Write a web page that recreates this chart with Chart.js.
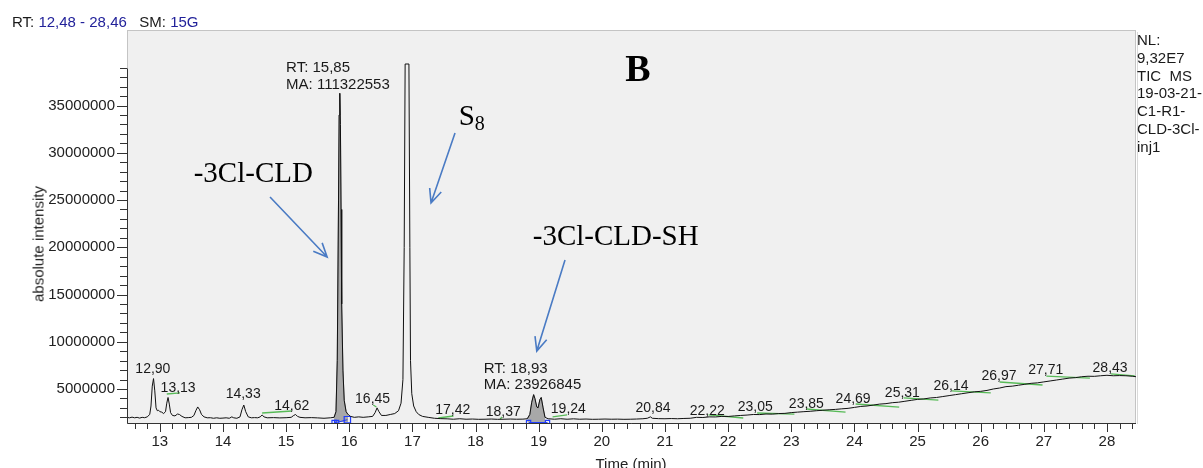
<!DOCTYPE html>
<html>
<head>
<meta charset="utf-8">
<script src="https://cdn.jsdelivr.net/npm/chart.js@4.4.1/dist/chart.umd.min.js"></script>
<style>
html,body{margin:0;padding:0;background:#fff;}
#wrap{position:relative;width:1203px;height:468px;overflow:hidden;font-family:"Liberation Sans",Arial,sans-serif;}
#c{position:absolute;left:0;top:0;}
.abs{position:absolute;white-space:nowrap;line-height:1;}
.hdr{left:12px;top:14px;font-size:15px;color:#1a1a1a;}
.hdr .v{color:#22229a;}
.nl{left:1137px;top:31px;font-size:15px;line-height:17.8px;color:#1a1a1a;white-space:pre;}
.ytitle{left:37.5px;top:244px;font-size:15px;color:#222;transform:translate(-50%,-50%) rotate(-90deg);}
.xtitle{left:631px;top:463px;font-size:15px;color:#222;transform:translate(-50%,-50%);}
.plab{font-size:14px;color:#1a1a1a;transform:translate(-50%,-50%);}
.rt{font-size:15px;color:#1a1a1a;transform:translate(0,-50%);}
.ser{font-family:"Liberation Serif","Times New Roman",serif;font-size:29px;color:#000;transform:translate(-50%,-50%);}
.bold{font-weight:bold;font-size:38px;}
.ser sub{font-size:20px;vertical-align:-5px;}
</style>
</head>
<body>
<div id="wrap">
<canvas id="c" width="1203" height="468"></canvas>
<div class="abs hdr">RT: <span class="v">12,48 - 28,46</span>&nbsp;&nbsp; SM: <span class="v">15G</span></div>
<div class="abs nl">NL:
9,32E7
TIC  MS
19-03-21-
C1-R1-
CLD-3Cl-
inj1</div>
<div class="abs ytitle">absolute intensity</div>
<div class="abs xtitle">Time (min)</div>
</div>
<script>
// ---------- data (time in min, intensity in millions) ----------
const tracePoints = [
[12.48,2.0],[12.52,1.95],[12.56,2.02],[12.60,1.95],[12.64,2.0],[12.68,1.92],[12.72,2.0],[12.76,1.96],[12.80,2.05],
[12.84,2.3],[12.86,3.2],[12.88,5.3],[12.90,6.1],[12.92,4.8],[12.94,3.0],[12.96,2.7],[12.98,2.75],[13.00,2.6],
[13.03,2.55],[13.06,2.4],[13.09,2.6],[13.11,3.5],[13.13,4.1],[13.15,3.4],[13.17,2.5],[13.20,2.2],[13.24,2.15],
[13.28,2.35],[13.31,2.3],[13.35,2.1],[13.40,1.95],[13.45,1.97],[13.50,2.0],[13.54,2.2],[13.57,2.7],[13.60,3.1],
[13.63,2.8],[13.66,2.3],[13.70,2.05],[13.75,1.95],[13.80,1.96],[13.85,1.9],[13.90,1.95],[13.95,1.9],[14.00,1.92],
[14.05,1.95],[14.10,1.9],[14.14,2.05],[14.17,1.95],[14.22,1.9],[14.27,2.05],[14.30,2.8],[14.33,3.3],[14.36,2.6],
[14.40,2.05],[14.45,1.95],[14.50,1.97],[14.55,1.95],[14.59,2.05],[14.62,2.25],[14.65,2.05],[14.70,1.95],[14.80,1.97],
[14.90,1.94],[15.00,1.96],[15.08,2.0],[15.12,2.2],[15.15,2.3],[15.18,2.1],[15.22,2.0],[15.30,1.95],[15.40,1.97],
[15.50,1.94],[15.60,1.9],[15.70,1.95],[15.76,2.0],[15.79,2.6],[15.81,8.0],[15.83,25.0],[15.84,34.0],[15.85,36.3],
[15.86,33.0],[15.87,24.0],[15.88,14.0],[15.90,7.0],[15.92,3.8],[15.95,2.6],[15.98,2.3],[16.02,2.1],[16.08,2.0],
[16.15,2.05],[16.22,2.0],[16.30,2.05],[16.37,2.1],[16.41,2.5],[16.44,3.0],[16.47,2.6],[16.51,2.2],[16.58,2.2],
[16.65,2.3],[16.72,2.4],[16.78,2.7],[16.82,3.5],[16.85,6.0],[16.87,20.0],[16.885,39.4],[16.945,39.4],[16.96,20.0],
[16.97,8.0],[16.99,4.5],[17.02,3.2],[17.06,2.6],[17.10,2.3],[17.16,2.1],[17.25,2.0],[17.35,1.9],[17.45,1.86],
[17.55,1.84],[17.65,1.8],[17.75,1.85],[17.85,1.8],[17.95,1.82],[18.05,1.79],[18.15,1.8],[18.25,1.82],[18.35,1.79],
[18.45,1.8],[18.55,1.82],[18.65,1.8],[18.75,1.81],[18.82,1.85],[18.86,2.3],[18.89,3.6],[18.92,4.4],[18.94,4.0],
[18.97,3.1],[18.99,3.0],[19.02,3.9],[19.04,4.1],[19.07,3.0],[19.10,2.0],[19.15,1.85],[19.25,1.8],[19.35,1.85],
[19.45,1.8],[19.55,1.84],[19.65,1.8],[19.75,1.82],[19.85,1.79],[19.95,1.8],[20.05,1.82],[20.15,1.8],[20.25,1.81],
[20.35,1.79],[20.45,1.8],[20.55,1.82],[20.65,1.85],[20.72,1.9],[20.77,2.05],[20.80,1.9],[20.90,1.86],[21.00,1.85],
[21.10,1.87],[21.20,1.85],[21.30,1.88],[21.40,1.9],[21.50,2.0],[21.60,1.98],[21.70,2.05],[21.80,2.04],[21.90,2.1],
[22.00,2.09],[22.10,2.15],[22.20,2.2],[22.30,2.24],[22.40,2.3],[22.50,2.29],[22.60,2.35],[22.70,2.34],[22.80,2.4],
[22.90,2.42],[23.00,2.5],[23.10,2.55],[23.20,2.6],[23.30,2.64],[23.40,2.7],[23.50,2.75],[23.60,2.8],[23.70,2.84],
[23.80,2.9],[23.90,2.95],[24.00,3.05],[24.10,3.15],[24.20,3.2],[24.30,3.3],[24.40,3.4],[24.50,3.45],[24.60,3.55],
[24.70,3.6],[24.80,3.7],[24.90,3.8],[25.00,3.9],[25.10,3.95],[25.20,4.05],[25.30,4.1],[25.40,4.2],[25.50,4.3],
[25.60,4.4],[25.70,4.5],[25.80,4.6],[25.90,4.7],[26.00,4.75],[26.10,4.85],[26.20,5.0],[26.30,5.1],[26.40,5.25],
[26.50,5.3],[26.60,5.4],[26.70,5.5],[26.80,5.6],[26.90,5.65],[27.00,5.75],[27.10,5.85],[27.20,5.95],[27.30,6.05],
[27.40,6.15],[27.50,6.2],[27.60,6.3],[27.70,6.35],[27.80,6.34],[27.90,6.4],[28.00,6.45],[28.10,6.4],[28.20,6.42],
[28.30,6.4],[28.40,6.35],[28.46,6.3]
];
// integrated (shaded) peak windows
const shadedWindows = [[15.76, 15.98], [18.82, 19.12]];
// integration baselines with boundary markers
const integrationBase1 = [[15.76,1.45],[15.80,1.45],[15.97,1.75]];
const integrationBase2 = [[18.84,1.45],[19.14,1.45]];
// peak labels: text, time, intensity (M)
const peakLabels = ["12,90","13,13","14,33","14,62","16,45","17,42","18,37","19,24","20,84","22,22","23,05","23,85","24,69","25,31","26,14","26,97","27,71","28,43"];
const peakLabelTimes = [12.89,13.29,14.32,15.09,16.37,17.64,18.44,19.47,20.81,21.67,22.43,23.24,23.98,24.76,25.53,26.29,27.03,28.05];
const peakLabelValues = [7.22,5.21,4.58,3.31,4.05,2.88,2.67,2.99,3.09,2.78,3.2,3.52,4.05,4.68,5.42,6.48,7.12,7.33];
// green label baselines: t1, v1, t2, v2
const greenSegments = [
[13.11,4.47,13.32,4.58],[14.62,2.46,15.09,2.67],[16.38,3.3,16.43,3.1],[17.41,1.93,17.65,2.14],[18.39,1.82,18.42,2.04],
[19.22,2.04,19.45,2.25],[21.69,2.25,22.24,1.93],[22.46,2.46,23.05,2.35],[23.24,2.88,23.86,2.56],[24.02,3.41,24.71,3.09],
[24.78,4.05,25.33,3.83],[25.54,4.79,26.16,4.58],[26.30,5.74,26.98,5.42],[27.04,6.37,27.73,6.16],[28.06,6.59,28.44,6.38]
];
// RT / MA annotations: lines, left time, intensity (M)
const rtNotes = [
 {lines:["RT: 15,85","MA: 111322553"], t:15.00, v:[39.19,37.39]},
 {lines:["RT: 18,93","MA: 23926845"], t:18.13, v:[7.33,5.63]}
];
// compound annotations: text, time, intensity (M)
const compoundNotes = [
 {html:"B", t:20.57, v:39.0, bold:true},
 {html:"-3Cl-CLD", t:14.48, v:27.97},
 {html:"S<sub>8</sub>", t:17.94, v:33.79},
 {html:"-3Cl-CLD-SH", t:20.22, v:21.3}
];
// arrows: from (t,v) to (t,v)
const arrows = [
 [14.745,25.32,15.65,18.97],
 [17.675,32.1,17.295,24.69],
 [19.417,18.65,18.97,9.02]
];
const xRange = [12.48, 28.46];
const yRange = [1.4e6, 43.0e6];
const yAxisTopValue = 39e6;

// ---------- derived ----------
const M = 1e6;
const traceData = tracePoints.map(p => ({x:p[0], y:p[1]*M}));
const shaded = shadedWindows.map(w => tracePoints.filter(p => p[0] >= w[0] && p[0] <= w[1]).map(p => ({x:p[0], y:p[1]*M})));
const greenData = [];
greenSegments.forEach(s => { greenData.push({x:s[0],y:s[1]*M},{x:s[2],y:s[3]*M},{x:s[2],y:null}); });

const xTickValues = [];
for (let k = 63; k <= 142; k++) xTickValues.push(Math.round(k*2)/10);
const yTickValues = [];
for (let k = 2; k <= 39; k++) yTickValues.push(k*M);
const isInt = v => Math.abs(v - Math.round(v)) < 1e-6;

const frame = {
 id:'frame',
 beforeDraw(chart){
  const {ctx, chartArea:a} = chart;
  ctx.save();
  ctx.fillStyle = '#f0f0f0';
  ctx.fillRect(a.left, a.top, a.right-a.left, a.bottom-a.top);
  ctx.strokeStyle = '#c4c4c4'; ctx.lineWidth = 1;
  ctx.strokeRect(a.left+0.5, a.top+0.5, a.right-a.left-1, a.bottom-a.top);
  ctx.strokeStyle = '#dadada';
  ctx.beginPath(); ctx.moveTo(a.right+1.5, a.top+2); ctx.lineTo(a.right+1.5, a.bottom+1); ctx.stroke();
  ctx.restore();
 },
 afterDraw(chart){
  const {ctx, chartArea:a, scales:{x, y}} = chart;
  ctx.save();
  ctx.strokeStyle = '#333'; ctx.lineWidth = 1;
  // axes lines
  ctx.beginPath();
  ctx.moveTo(a.left+0.5, Math.round(y.getPixelForValue(yAxisTopValue))+0.5);
  ctx.lineTo(a.left+0.5, a.bottom+0.5);
  ctx.lineTo(a.right, a.bottom+0.5);
  ctx.stroke();
  // x ticks
  ctx.beginPath();
  x.ticks.forEach(t => {
   const px = Math.round(x.getPixelForValue(t.value))+0.5;
   const len = isInt(t.value) ? 8 : 5;
   ctx.moveTo(px, a.bottom+1); ctx.lineTo(px, a.bottom+1+len);
  });
  // y ticks
  y.ticks.forEach(t => {
   const py = Math.round(y.getPixelForValue(t.value))+0.5;
   const len = (t.value % (5*M) === 0) ? 10 : 7;
   ctx.moveTo(a.left, py); ctx.lineTo(a.left-len, py);
  });
  ctx.stroke();
  // arrows
  ctx.strokeStyle = '#4a7bc4'; ctx.lineWidth = 1.6;
  arrows.forEach(ar => {
   const x1 = x.getPixelForValue(ar[0]), y1 = y.getPixelForValue(ar[1]*M);
   const x2 = x.getPixelForValue(ar[2]), y2 = y.getPixelForValue(ar[3]*M);
   const ang = Math.atan2(y2-y1, x2-x1), h = 15, sp = 0.42;
   ctx.beginPath();
   ctx.moveTo(x1,y1); ctx.lineTo(x2,y2);
   ctx.moveTo(x2 - h*Math.cos(ang-sp), y2 - h*Math.sin(ang-sp)); ctx.lineTo(x2,y2);
   ctx.lineTo(x2 - h*Math.cos(ang+sp), y2 - h*Math.sin(ang+sp));
   ctx.stroke();
  });
  ctx.restore();
 }
};

Chart.defaults.font.family = '"Liberation Sans", Arial, sans-serif';
Chart.defaults.color = '#222';

const chart = new Chart(document.getElementById('c'), {
 type:'line',
 data:{datasets:[
  {label:'TIC', data:traceData, borderColor:'#111', borderWidth:1, pointRadius:0, fill:false, tension:0, order:1},
  {label:'area 15.85', data:shaded[0], borderColor:'#8a8a8a', backgroundColor:'#a8a8a8', borderWidth:1, pointRadius:0, fill:{value:1.5*M}, order:4},
  {label:'area 18.93', data:shaded[1], borderColor:'#8a8a8a', backgroundColor:'#a8a8a8', borderWidth:1, pointRadius:0, fill:{value:1.5*M}, order:4},
  {label:'labels base', data:greenData, borderColor:'#58bb58', borderWidth:1.3, pointRadius:0, fill:false, spanGaps:false, order:3},
  {label:'int base 1', data:integrationBase1.map(p=>({x:p[0],y:p[1]*M})), borderColor:'#1f3cff', borderWidth:1, pointStyle:'rect', pointRadius:[3,3,4.5], pointBorderColor:'#1f3cff', pointBackgroundColor:'rgba(0,0,0,0)', pointBorderWidth:1.2, fill:false, order:2},
  {label:'int base 2', data:integrationBase2.map(p=>({x:p[0],y:p[1]*M})), borderColor:'#1f3cff', borderWidth:1, pointStyle:'rect', pointRadius:3, pointBorderColor:'#1f3cff', pointBackgroundColor:'rgba(0,0,0,0)', pointBorderWidth:1.2, fill:false, order:2}
 ]},
 options:{
  responsive:false, animation:false, devicePixelRatio:1, events:[],
  layout:{padding:{top:30, right:67, left:0, bottom:0}},
  plugins:{legend:{display:false}, tooltip:{enabled:false}, title:{display:false}},
  scales:{
   x:{type:'linear', min:xRange[0], max:xRange[1],
      afterFit(s){ s.height = 45; },
      afterBuildTicks(s){ s.ticks = xTickValues.map(v => ({value:v})); },
      ticks:{autoSkip:false, maxRotation:0, padding:10, font:{size:15}, color:'#222',
             callback(v){ return isInt(v) ? String(Math.round(v)) : ''; }},
      grid:{display:false, drawTicks:false}, border:{display:false}},
   y:{type:'linear', min:yRange[0], max:yRange[1],
      afterFit(s){ s.width = 127; },
      afterBuildTicks(s){ s.ticks = yTickValues.map(v => ({value:v})); },
      ticks:{autoSkip:false, padding:12, font:{size:15}, color:'#222',
             callback(v){ return (v % (5*M) === 0) ? String(v) : ''; }},
      grid:{display:false, drawTicks:false}, border:{display:false}}
  }
 },
 plugins:[frame]
});

// ---------- text overlays positioned through the scales ----------
const wrap = document.getElementById('wrap');
const xs = chart.scales.x, ys = chart.scales.y;
function addDiv(cls, html, t, v){
 const d = document.createElement('div');
 d.className = 'abs ' + cls;
 d.innerHTML = html;
 d.style.left = xs.getPixelForValue(t) + 'px';
 d.style.top = ys.getPixelForValue(v*M) + 'px';
 wrap.appendChild(d);
}
peakLabels.forEach((s,i) => addDiv('plab', s, peakLabelTimes[i], peakLabelValues[i]));
rtNotes.forEach(n => n.lines.forEach((s,i) => addDiv('rt', s, n.t, n.v[i])));
compoundNotes.forEach(n => addDiv('ser' + (n.bold ? ' bold' : ''), n.html, n.t, n.v));
</script>
</body>
</html>
